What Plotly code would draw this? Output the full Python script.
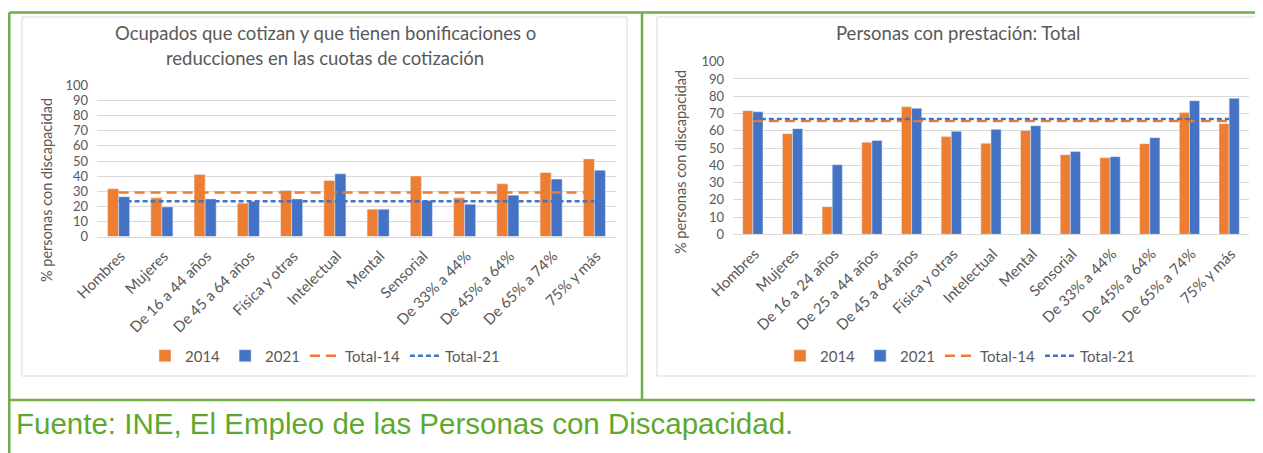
import plotly.graph_objects as go

# ---------------- data ----------------
cats_left = ["Hombres", "Mujeres", "De 16 a 44 años", "De 45 a 64 años", "Física y otras",
             "Intelectual", "Mental", "Sensorial", "De 33% a 44%", "De 45% a 64%",
             "De 65% a 74%", "75% y más"]
left_2014 = [31.6, 25.6, 41.1, 22.1, 30.5, 37.1, 18.1, 40.0, 25.6, 34.9, 42.4, 51.4]
left_2021 = [26.3, 19.6, 24.9, 23.4, 24.9, 41.5, 18.1, 23.8, 21.4, 27.4, 38.0, 43.9]
left_total_14 = 29.1
left_total_21 = 23.4

cats_right = ["Hombres", "Mujeres", "De 16 a 24 años", "De 25 a 44 años", "De 45 a 64 años",
              "Física y otras", "Intelectual", "Mental", "Sensorial", "De 33% a 44%",
              "De 45% a 64%", "De 65% a 74%", "75% y más"]
right_2014 = [71.6, 58.3, 16.0, 53.3, 73.9, 56.6, 52.7, 60.2, 46.1, 44.4, 52.5, 70.5, 64.1]
right_2021 = [71.0, 61.2, 40.3, 54.4, 73.0, 59.7, 60.8, 62.9, 47.9, 45.0, 56.0, 77.4, 78.8]
right_total_14 = 65.6
right_total_21 = 66.8

title_left_1 = "Ocupados que cotizan y que tienen bonificaciones o"
title_left_2 = "reducciones en las cuotas de cotización"
title_right = "Personas con prestación: Total"
ytitle = "% personas con discapacidad"
source = "Fuente: INE, El Empleo de las Personas con Discapacidad."
series_names = ["2014", "2021", "Total-14", "Total-21"]

# ---------------- style ----------------
W, H = 1263, 453
OX, OY = 8, 8          # page body margin offset of the rendered figure
ORANGE = "#ED7D31"
BLUE = "#4472C4"
GREEN = "#70AD47"
TXT = "#595959"
GRID = "#D9D9D9"
FONT = "Lato"


def px(x):
    return (x - OX) / W


def py(y):
    return 1 - (y - OY) / H


fig = go.Figure()

panels = [
    dict(cats=cats_left, a=left_2014, b=left_2021, t14=left_total_14, t21=left_total_21,
         xa="x", ya="y", legend="legend"),
    dict(cats=cats_right, a=right_2014, b=right_2021, t14=right_total_14, t21=right_total_21,
         xa="x2", ya="y2", legend="legend2"),
]

for p in panels:
    fig.add_trace(go.Bar(x=p["cats"], y=p["a"], name=series_names[0], marker_color=ORANGE,
                         xaxis=p["xa"], yaxis=p["ya"], legend=p["legend"]))
    fig.add_trace(go.Bar(x=p["cats"], y=p["b"], name=series_names[1], marker_color=BLUE,
                         xaxis=p["xa"], yaxis=p["ya"], legend=p["legend"]))
    fig.add_trace(go.Scatter(x=p["cats"], y=[p["t14"]] * len(p["cats"]), name=series_names[2],
                             mode="lines", line=dict(color=ORANGE, width=2.5, dash="10px,6px"),
                             xaxis=p["xa"], yaxis=p["ya"], legend=p["legend"]))
    fig.add_trace(go.Scatter(x=p["cats"], y=[p["t21"]] * len(p["cats"]), name=series_names[3],
                             mode="lines", line=dict(color=BLUE, width=2.5, dash="5px,3px"),
                             xaxis=p["xa"], yaxis=p["ya"], legend=p["legend"]))

xcommon = dict(tickangle=-45, tickfont=dict(family=FONT, size=15, color=TXT), showline=True,
               linecolor=GRID, linewidth=1, ticks="", showgrid=False, fixedrange=True,
               automargin=False, ticklabelshift=2, ticklabelstandoff=4)
ycommon = dict(range=[0, 100], dtick=10, tickfont=dict(family=FONT, size=13, color=TXT),
               showgrid=True, gridcolor=GRID, gridwidth=1, zeroline=False, showline=False,
               ticks="", fixedrange=True, automargin=False, ticklabelstandoff=8)

legcommon = dict(orientation="h", font=dict(family=FONT, size=15, color=TXT),
                 xanchor="center", yanchor="middle", bgcolor="rgba(0,0,0,0)",
                 itemwidth=30, traceorder="normal", tracegroupgap=0)

shapes = []
# grey chart frames
shapes.append(dict(type="rect", xref="paper", yref="paper", x0=px(22), x1=px(627), y0=py(376),
                   y1=py(17), line=dict(color=GRID, width=1)))
shapes.append(dict(type="rect", xref="paper", yref="paper", x0=px(657), x1=px(1259), y0=py(376),
                   y1=py(17), line=dict(color=GRID, width=1)))
# green table lines
g = dict(color=GREEN, width=2.5)
shapes += [
    dict(type="line", xref="paper", yref="paper", x0=px(9.25), x1=px(1263), y0=py(12.5), y1=py(12.5), line=g),
    dict(type="line", xref="paper", yref="paper", x0=px(9.25), x1=px(9.25), y0=py(12.5), y1=py(453), line=g),
    dict(type="line", xref="paper", yref="paper", x0=px(642), x1=px(642), y0=py(12.5), y1=py(400), line=g),
    dict(type="line", xref="paper", yref="paper", x0=px(9.25), x1=px(1263), y0=py(400), y1=py(400), line=g),
    dict(type="line", xref="paper", yref="paper", x0=px(1261), x1=px(1261), y0=py(12.5), y1=py(400),
         line=dict(color="#CFCFCF", width=1)),
]

ann = [
    dict(text=title_left_1, x=px(325), y=py(33), font=dict(family=FONT, size=18.5, color=TXT)),
    dict(text=title_left_2, x=px(325), y=py(58), font=dict(family=FONT, size=18.5, color=TXT)),
    dict(text=title_right, x=px(958), y=py(33), font=dict(family=FONT, size=18.5, color=TXT)),
    dict(text=ytitle, x=px(46), y=py(190), textangle=-90, font=dict(family=FONT, size=14.5, color=TXT)),
    dict(text=ytitle, x=px(681), y=py(162), textangle=-90, font=dict(family=FONT, size=14.5, color=TXT)),
    dict(text=source, x=px(14), y=py(423), xanchor="left",
         font=dict(family="Liberation Sans", size=29.5, color="#5FA82E")),
]
for a in ann:
    a.setdefault("xanchor", "center")
    a.update(xref="paper", yref="paper", yanchor="middle", showarrow=False)

fig.update_layout(
    width=W, height=H, autosize=False,
    margin=dict(l=0, r=0, t=0, b=0, pad=0, autoexpand=False),
    paper_bgcolor="white", plot_bgcolor="white",
    barmode="group", bargap=0.49, bargroupgap=0,
    xaxis=dict(domain=[px(97), px(616)], anchor="y", **xcommon),
    yaxis=dict(domain=[py(236.5), py(85.5)], anchor="x", **ycommon),
    xaxis2=dict(domain=[px(733), px(1249)], anchor="y2", **xcommon),
    yaxis2=dict(domain=[py(234.3), py(61.7)], anchor="x2", **ycommon),
    legend=dict(x=px(325), y=py(356), **legcommon),
    legend2=dict(x=px(960), y=py(356), **legcommon),
    shapes=shapes, annotations=ann,
    showlegend=True,
)

fig.write_html("out.html")
